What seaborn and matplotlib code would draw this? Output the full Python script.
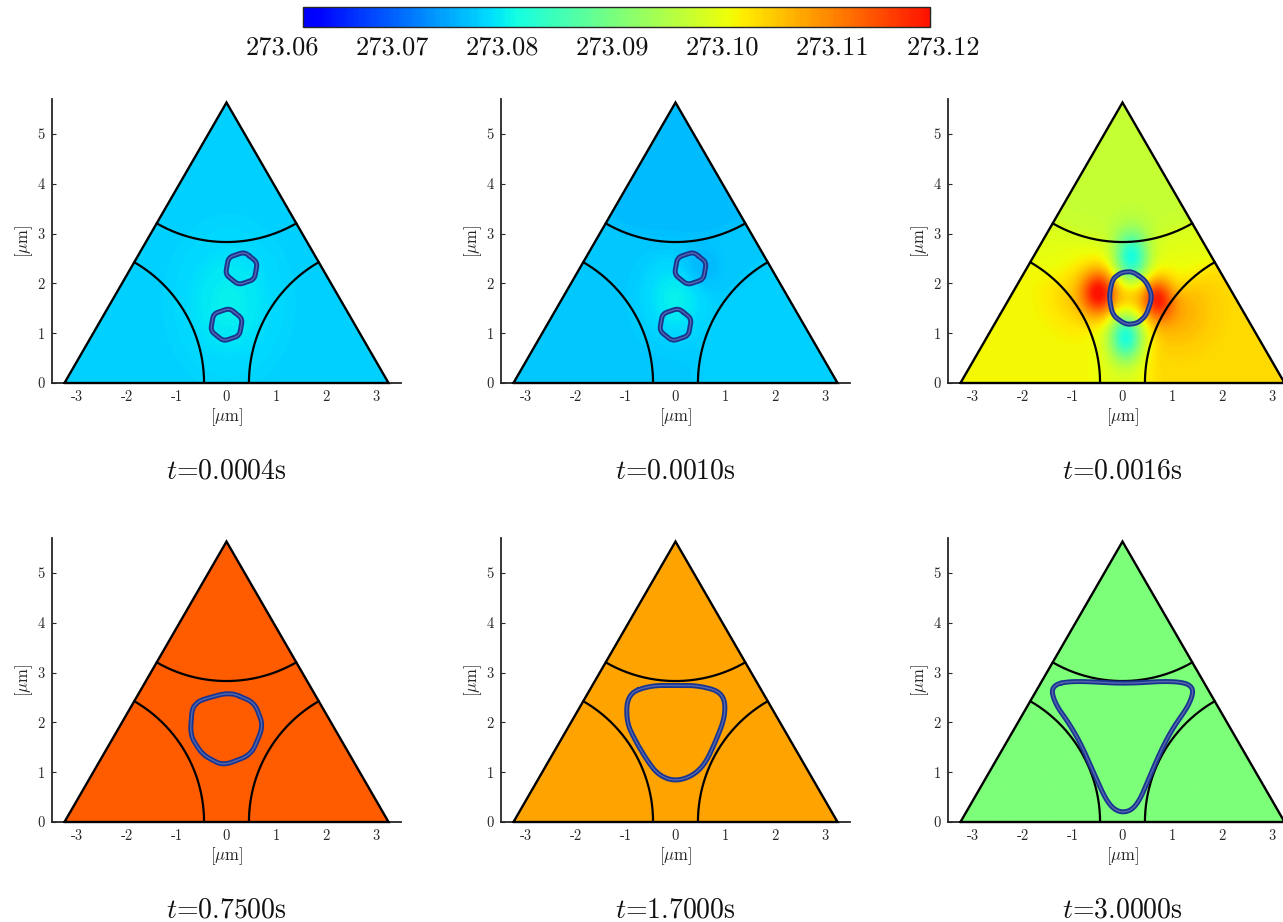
import numpy as np
import matplotlib
matplotlib.use("Agg")
import matplotlib.pyplot as plt
from matplotlib.patches import Polygon
from matplotlib.colors import ListedColormap
import seaborn as sns

# ---------------------------------------------------------------- data
T_MIN, T_MAX = 273.06, 273.12
CBAR_TICKS = [273.06, 273.07, 273.08, 273.09, 273.10, 273.11, 273.12]
CBAR_LABELS = ["273.06", "273.07", "273.08", "273.09", "273.10", "273.11", "273.12"]

TIMES = ["0.0004", "0.0010", "0.0016", "0.7500", "1.7000", "3.0000"]

X_TICKS = [-3, -2, -1, 0, 1, 2, 3]
Y_TICKS = [0, 1, 2, 3, 4, 5]

SIDE = 6.5          # triangle side length [um]
ARC_RADIUS = 2.8    # radius of the three corner grains [um]

# grain temperatures [K]: central, lower-left, lower-right, top
REGION_T_1 = [273.0769, 273.0769, 273.0769, 273.0769]
REGION_T_2 = [273.0765, 273.0765, 273.0770, 273.0755]
REGION_T_3 = [273.0995, 273.1012, 273.1035, 273.0967]
REGION_T_4 = [273.1138, 273.1138, 273.1138, 273.1138]
REGION_T_5 = [273.1081, 273.1081, 273.1081, 273.1081]
REGION_T_6 = [273.0902, 273.0902, 273.0902, 273.0902]
REGION_T = [REGION_T_1, REGION_T_2, REGION_T_3, REGION_T_4, REGION_T_5, REGION_T_6]

# local temperature perturbations: x, y, amplitude [K], sigma_x, sigma_y
BUMPS_1 = [[0.05, 1.60, 0.0025, 0.60, 0.80]]
BUMPS_2 = [[0.00, 1.70, 0.0030, 0.40, 0.50],
           [0.50, 2.30, -0.0020, 0.28, 0.28]]
BUMPS_3 = [[-0.47, 1.80, 0.0170, 0.24, 0.32],
           [-0.75, 1.80, 0.0050, 0.45, 0.45],
           [0.70, 1.68, 0.0160, 0.22, 0.30],
           [1.05, 1.45, 0.0040, 0.50, 0.50],
           [0.18, 2.50, -0.0190, 0.24, 0.36],
           [0.07, 0.92, -0.0190, 0.23, 0.34],
           [0.15, 1.72, 0.0050, 0.25, 0.30]]
BUMPS_4 = []
BUMPS_5 = []
BUMPS_6 = []
BUMPS = [BUMPS_1, BUMPS_2, BUMPS_3, BUMPS_4, BUMPS_5, BUMPS_6]

# embedded grain outlines (control polygons) [um]
GRAIN_UPPER = [(0.36, 2.63), (0.62, 2.42), (0.56, 2.08), (0.24, 1.97),
               (-0.02, 2.18), (0.04, 2.52)]
GRAIN_LOWER = [(0.06, 1.50), (0.32, 1.29), (0.26, 0.95), (-0.06, 0.84),
               (-0.32, 1.05), (-0.26, 1.39)]
GRAIN_3 = [(0.20, 2.24), (0.47, 2.05), (0.60, 1.74), (0.48, 1.36), (0.30, 1.20),
           (0.07, 1.17), (-0.20, 1.36), (-0.27, 1.74), (-0.20, 2.09), (-0.02, 2.22)]
GRAIN_4 = [(0.06, 2.61), (0.56, 2.40), (0.74, 1.93), (0.50, 1.35), (-0.07, 1.13),
           (-0.48, 1.35), (-0.73, 1.74), (-0.68, 2.40)]
GRAIN_5 = [(-0.96, 2.58), (-0.50, 2.74), (0.00, 2.74), (0.46, 2.74), (0.96, 2.60),
           (1.01, 2.15), (0.80, 1.60), (0.58, 1.14), (0.30, 0.90), (-0.04, 0.82),
           (-0.35, 0.95), (-0.56, 1.22), (-0.80, 1.62), (-0.99, 2.02)]
GRAIN_6 = [(-1.44, 2.74), (-1.00, 2.84), (0.00, 2.77), (1.00, 2.84), (1.44, 2.74),
           (1.36, 2.38), (1.05, 1.95), (0.80, 1.50), (0.54, 0.90), (0.34, 0.42),
           (0.15, 0.21), (-0.10, 0.20), (-0.31, 0.40), (-0.54, 0.90), (-0.80, 1.50),
           (-1.05, 1.95), (-1.36, 2.38)]
GRAINS = [[GRAIN_UPPER, GRAIN_LOWER], [GRAIN_UPPER, GRAIN_LOWER], [GRAIN_3],
          [GRAIN_4], [GRAIN_5], [GRAIN_6]]
CORNER_CUT = [0.15, 0.15, 0.2, 0.18, 0.25, 0.25]

# ---------------------------------------------------------------- style
sns.set_theme(style="white")
plt.rcParams["font.family"] = ["cmr10", "DejaVu Serif"]
plt.rcParams["mathtext.fontset"] = "cm"
plt.rcParams["axes.unicode_minus"] = False
plt.rcParams["axes.formatter.use_mathtext"] = True

# jet running from pure blue to pure red
cmap = ListedColormap(matplotlib.colormaps["jet"](np.linspace(0.11, 0.89, 256)))

W, H = 1283, 922
fig = plt.figure(figsize=(W / 100, H / 100), dpi=100)

XLIM = (-3.5, 3.5)
YLIM = (0.0, 5.7)
col_left = [52, 501, 948]
row_bottom = [383, 822]
ax_w = 349
ax_h = 284


def smooth_closed(pts, frac, n=4):
    """Chaikin corner cutting of a closed polygon."""
    p = np.asarray(pts, float)
    for _ in range(n):
        q = np.roll(p, -1, axis=0)
        a = (1 - frac) * p + frac * q
        b = frac * p + (1 - frac) * q
        p = np.empty((2 * len(a), 2))
        p[0::2] = a
        p[1::2] = b
    return np.vstack([p, p[:1]])


hgt = SIDE * np.sqrt(3) / 2
verts = np.array([[-SIDE / 2, 0.0], [SIDE / 2, 0.0], [0.0, hgt]])

gx = np.linspace(XLIM[0], XLIM[1], 560)
gy = np.linspace(YLIM[0], YLIM[1], 460)
GX, GY = np.meshgrid(gx, gy)

im = None
for k in range(6):
    r, c = divmod(k, 3)
    left = col_left[c] / W
    bottom = 1 - row_bottom[r] / H
    ax = fig.add_axes([left, bottom, ax_w / W, ax_h / H])

    # grain-wise temperature with soft transitions across the boundaries
    t_c = REGION_T[k][0]
    T = np.full_like(GX, t_c)
    for (vx, vy), t_g in zip(verts, REGION_T[k][1:]):
        d = np.hypot(GX - vx, GY - vy)
        w = 1.0 / (1.0 + np.exp((d - ARC_RADIUS) / 0.12))
        T += w * (t_g - t_c)
    for cx, cy, amp, sx, sy in BUMPS[k]:
        T += amp * np.exp(-((GX - cx) ** 2 / (2 * sx ** 2) + (GY - cy) ** 2 / (2 * sy ** 2)))

    tri = Polygon(verts, closed=True, facecolor="none", edgecolor="none",
                  transform=ax.transData)
    ax.add_patch(tri)
    im = ax.imshow(T, extent=(XLIM[0], XLIM[1], YLIM[0], YLIM[1]), origin="lower",
                   cmap=cmap, vmin=T_MIN, vmax=T_MAX, interpolation="bilinear",
                   aspect="auto", zorder=1)
    im.set_clip_path(tri)

    # boundaries of the three corner grains
    for (vx, vy), a0, a1 in zip(verts, [0, 120, 240], [60, 180, 300]):
        th = np.radians(np.linspace(a0, a1, 200))
        ax.plot(vx + ARC_RADIUS * np.cos(th), vy + ARC_RADIUS * np.sin(th),
                color="black", lw=1.6, zorder=3)
    closed = np.vstack([verts, verts[:1]])
    ax.plot(closed[:, 0], closed[:, 1], color="black", lw=1.7, zorder=4,
            clip_on=False, solid_joinstyle="miter")

    # embedded grains (double interface line)
    for g in GRAINS[k]:
        s = smooth_closed(g, CORNER_CUT[k])
        ax.plot(s[:, 0], s[:, 1], color="#1a3590", lw=3.6, zorder=5,
                solid_joinstyle="round")
        ax.plot(s[:, 0], s[:, 1], color="white", alpha=0.25, lw=1.0, zorder=6)

    ax.set_xlim(*XLIM)
    ax.set_ylim(*YLIM)
    ax.set_xticks(X_TICKS)
    ax.set_xticklabels([str(t) for t in X_TICKS])
    ax.set_yticks(Y_TICKS)
    ax.set_yticklabels([str(t) for t in Y_TICKS])
    ax.tick_params(direction="in", length=3, width=0.8, labelsize=10.5,
                   colors="#262626", pad=5, left=True, bottom=True)
    for side in ["top", "right"]:
        ax.spines[side].set_visible(False)
    for side in ["left", "bottom"]:
        ax.spines[side].set_linewidth(1.3)
        ax.spines[side].set_color("#262626")
    ax.set_xlabel(r"$[\mu\mathrm{m}]$", fontsize=12, labelpad=2, color="#262626")
    ax.set_ylabel(r"$[\mu\mathrm{m}]$", fontsize=12, labelpad=2, color="#262626")
    ax.set_facecolor("white")

    fig.text(left + ax_w / 2 / W, 1 - (row_bottom[r] + 88) / H,
             r"$t$=" + TIMES[k] + "s", ha="center", va="center", fontsize=20,
             color="#111111")

# colour bar; its labels sit on a slightly wider row than the bar itself
cb_left, cb_width = 303, 627
cax = fig.add_axes([cb_left / W, 1 - 27 / H, cb_width / W, 20 / H])
cb = fig.colorbar(im, cax=cax, orientation="horizontal", ticks=CBAR_TICKS)
cb.ax.set_xticklabels([])
cb.ax.tick_params(direction="in", length=5, width=0.8, top=True, bottom=True,
                  colors="#111111")
cb.outline.set_linewidth(1.0)
lab_x0, lab_x1 = 282, 943
for i, lab in enumerate(CBAR_LABELS):
    px = lab_x0 + i * (lab_x1 - lab_x0) / (len(CBAR_LABELS) - 1)
    cax.text((px - cb_left) / cb_width, -0.45, lab, transform=cax.transAxes,
             ha="center", va="top", fontsize=19, color="#111111")

fig.savefig("out.png", dpi=100)
